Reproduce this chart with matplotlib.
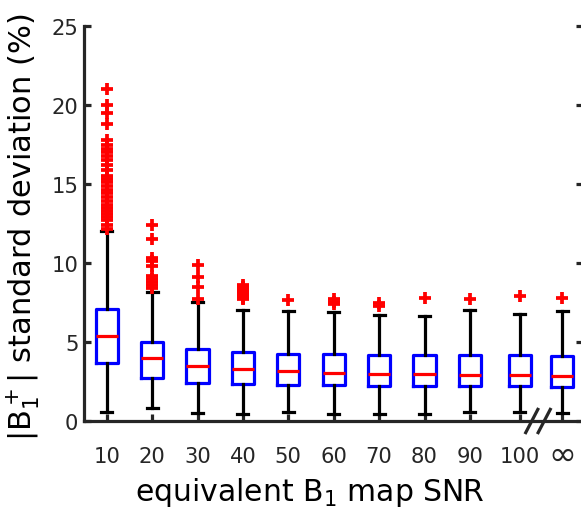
import matplotlib
matplotlib.use("Agg")
import matplotlib.pyplot as plt
from matplotlib.transforms import blended_transform_factory

# equivalent B1 map SNR levels
snr_labels = ["10", "20", "30", "40", "50", "60", "70", "80", "90", "100", "\u221e"]

# box statistics of |B1+| standard deviation (%)
medians = [5.38, 3.99, 3.50, 3.27, 3.14, 3.06, 3.00, 2.95, 2.93, 2.93, 2.85]
q1 = [3.65, 2.72, 2.41, 2.32, 2.28, 2.26, 2.24, 2.22, 2.22, 2.22, 2.15]
q3 = [7.08, 5.00, 4.56, 4.35, 4.26, 4.24, 4.18, 4.18, 4.18, 4.18, 4.09]
whisker_low = [0.57, 0.84, 0.53, 0.42, 0.57, 0.46, 0.42, 0.44, 0.57, 0.57, 0.53]
whisker_high = [12.0, 8.18, 7.55, 7.03, 6.98, 6.92, 6.71, 6.67, 7.05, 6.77, 6.94]

outliers_10 = [21.0, 20.0, 19.5, 18.8, 17.8, 17.5, 17.2, 17.0, 16.8, 16.5, 16.2,
               15.9, 15.5, 15.3, 15.1, 14.85, 14.6, 14.4, 14.2, 13.95, 13.7,
               13.5, 13.3, 13.1, 12.9, 12.7, 12.4, 12.15]
outliers_20 = [12.4, 11.5, 10.3, 10.1, 9.8, 9.2, 9.0, 8.8, 8.6, 8.4]
outliers_30 = [9.9, 9.1, 8.5, 7.75]
outliers_40 = [8.6, 8.5, 8.4, 8.3, 8.2, 8.1, 8.0, 7.9, 7.8, 7.7]
outliers_50 = [7.66]
outliers_60 = [7.75, 7.55, 7.4]
outliers_70 = [7.5, 7.3]
outliers_80 = [7.77]
outliers_90 = [7.72]
outliers_100 = [7.91]
outliers_inf = [7.81]
outliers = [outliers_10, outliers_20, outliers_30, outliers_40, outliers_50,
            outliers_60, outliers_70, outliers_80, outliers_90, outliers_100,
            outliers_inf]

# x positions: evenly spaced up to 90, then a gap for the axis break
positions = [1, 2, 3, 4, 5, 6, 7, 8, 9, 10.1, 11.03]

ink = "#262626"
plt.rcParams["font.family"] = ["DejaVu Sans"]
plt.rcParams["mathtext.fontset"] = "dejavusans"

fig = plt.figure(figsize=(5.81, 5.10), dpi=100)
ax = fig.add_axes([84 / 581, 88 / 510, (583.4 - 84) / 581, (483 - 88) / 510])

stats = []
for i in range(len(snr_labels)):
    stats.append(dict(med=medians[i], q1=q1[i], q3=q3[i],
                      whislo=whisker_low[i], whishi=whisker_high[i],
                      fliers=outliers[i], label=snr_labels[i]))

lw = 2.3
ax.bxp(stats, positions=positions, widths=0.49, capwidths=0.24,
       showfliers=True,
       boxprops=dict(color="#0000ff", linewidth=lw),
       medianprops=dict(color="#ff0000", linewidth=lw),
       whiskerprops=dict(color="black", linewidth=lw, linestyle="-"),
       capprops=dict(color="black", linewidth=lw),
       flierprops=dict(marker="+", markeredgecolor="#ff0000",
                       markersize=8.5, markeredgewidth=2.7, linestyle="none"))

ax.set_xlim(0.5, 11.5)
ax.set_ylim(0, 25)
ax.set_yticks([0, 5, 10, 15, 20, 25])
ax.set_xticks(positions)
# digits as ordinary tick labels; the infinity sign is placed separately below
ax.set_xticklabels(snr_labels[:-1] + [""])

ax.spines["top"].set_visible(False)
for side in ["left", "bottom", "right"]:
    ax.spines[side].set_color(ink)
    ax.spines[side].set_linewidth(2.3)

ax.tick_params(axis="both", direction="in", length=5, width=2.3, color=ink,
               labelcolor=ink, labelsize=15.2)
ax.tick_params(axis="y", right=True, pad=4)
ax.tick_params(axis="x", pad=18)

tr = blended_transform_factory(ax.transData, ax.transAxes)
ax.text(positions[-1], (422 - 455) / 395, snr_labels[-1], transform=tr,
        ha="center", va="center", fontsize=24, color=ink, clip_on=False)

ax.set_ylabel(r"|B$_1^+$| standard deviation (%)", fontsize=22, color="black")
ax.yaxis.set_label_coords((42 - 84) / (583.4 - 84), (422 - 227) / 395)
ax.set_xlabel(r"equivalent B$_1$ map SNR", fontsize=21.5, color="black")
ax.xaxis.set_label_coords((310 - 84) / (583.4 - 84), (422 - 476) / 395)

# axis break marks between 100 and infinity
for dx in (-0.137, 0.137):
    x0 = 10.5 + dx
    ax.plot([x0 - 0.15, x0 + 0.15], [-0.033, 0.033], color=ink, lw=2.3,
            transform=tr, clip_on=False, solid_capstyle="butt")

fig.savefig("out.png", dpi=100)
